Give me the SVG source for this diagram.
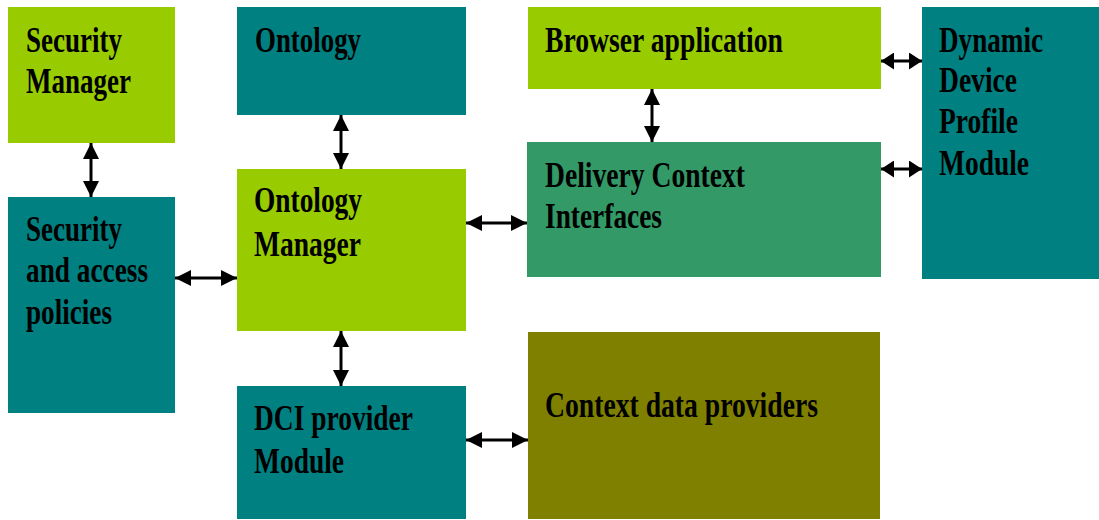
<svg xmlns="http://www.w3.org/2000/svg" width="1099" height="520" viewBox="0 0 1099 520">
  <style>
    .lime { fill: #99CC00; }
    .teal { fill: #008080; }
    .sea { fill: #339966; }
    .olive { fill: #808000; }
    text { font-family: "Liberation Serif", "Times New Roman", serif; font-weight: bold; font-size: 36px; fill: #000; }
    .conn { stroke: #000; stroke-width: 3; fill: none; marker-start: url(#head); marker-end: url(#head); }
    .conn.short { marker-start: url(#head-s); marker-end: url(#head-s); }
  </style>
  <defs>
    <marker id="head" viewBox="0 0 16 16" refX="16" refY="8" markerWidth="16" markerHeight="16" markerUnits="userSpaceOnUse" orient="auto-start-reverse">
      <path d="M0,0 L16,8 L0,16 Z" fill="#000"/>
    </marker>
    <marker id="head-s" viewBox="0 0 13 17" refX="13" refY="8.5" markerWidth="13" markerHeight="17" markerUnits="userSpaceOnUse" orient="auto-start-reverse">
      <path d="M0,0 L13,8.5 L0,17 Z" fill="#000"/>
    </marker>
  </defs>

  <rect width="1099" height="520" fill="#fff"/>

  <g id="security-manager">
    <rect class="lime" x="8" y="7" width="167" height="136"/>
    <text x="26" y="52" textLength="96" lengthAdjust="spacingAndGlyphs">Security</text>
    <text x="26" y="93" textLength="105" lengthAdjust="spacingAndGlyphs">Manager</text>
  </g>

  <g id="security-policies">
    <rect class="teal" x="8" y="197" width="167" height="216"/>
    <text x="26" y="241" textLength="96" lengthAdjust="spacingAndGlyphs">Security</text>
    <text x="26" y="282" textLength="122" lengthAdjust="spacingAndGlyphs">and access</text>
    <text x="26" y="324" textLength="86" lengthAdjust="spacingAndGlyphs">policies</text>
  </g>

  <g id="ontology">
    <rect class="teal" x="237" y="7" width="229" height="108"/>
    <text x="255" y="52" textLength="106" lengthAdjust="spacingAndGlyphs">Ontology</text>
  </g>

  <g id="ontology-manager">
    <rect class="lime" x="237" y="169" width="229" height="162"/>
    <text x="254" y="212" textLength="108" lengthAdjust="spacingAndGlyphs">Ontology</text>
    <text x="254" y="256" textLength="107" lengthAdjust="spacingAndGlyphs">Manager</text>
  </g>

  <g id="dci-provider">
    <rect class="teal" x="237" y="386" width="229" height="133"/>
    <text x="254" y="430" textLength="159" lengthAdjust="spacingAndGlyphs">DCI provider</text>
    <text x="254" y="473" textLength="90" lengthAdjust="spacingAndGlyphs">Module</text>
  </g>

  <g id="browser-application">
    <rect class="lime" x="528" y="7" width="353" height="82"/>
    <text x="545" y="52" textLength="238" lengthAdjust="spacingAndGlyphs">Browser application</text>
  </g>

  <g id="delivery-context">
    <rect class="sea" x="527" y="142" width="354" height="135"/>
    <text x="545" y="187" textLength="200" lengthAdjust="spacingAndGlyphs">Delivery Context</text>
    <text x="545" y="228" textLength="117" lengthAdjust="spacingAndGlyphs">Interfaces</text>
  </g>

  <g id="context-data-providers">
    <rect class="olive" x="528" y="332" width="352" height="187"/>
    <text x="545" y="417" textLength="273" lengthAdjust="spacingAndGlyphs">Context data providers</text>
  </g>

  <g id="device-profile">
    <rect class="teal" x="922" y="7" width="177" height="272"/>
    <text x="939" y="52" textLength="104" lengthAdjust="spacingAndGlyphs">Dynamic</text>
    <text x="939" y="92" textLength="78" lengthAdjust="spacingAndGlyphs">Device</text>
    <text x="939" y="133" textLength="79" lengthAdjust="spacingAndGlyphs">Profile</text>
    <text x="939" y="175" textLength="90" lengthAdjust="spacingAndGlyphs">Module</text>
  </g>

  <g id="connectors">
    <line class="conn" x1="91" y1="143" x2="91" y2="197"/>
    <line class="conn" x1="341" y1="115" x2="341" y2="169"/>
    <line class="conn" x1="175" y1="278" x2="237" y2="278"/>
    <line class="conn" x1="466" y1="223" x2="527" y2="223"/>
    <line class="conn" x1="652" y1="89" x2="652" y2="142"/>
    <line class="conn short" x1="881" y1="61" x2="922" y2="61"/>
    <line class="conn short" x1="881" y1="169" x2="922" y2="169"/>
    <line class="conn" x1="341" y1="331" x2="341" y2="386"/>
    <line class="conn" x1="466" y1="440" x2="528" y2="440"/>
  </g>
</svg>
